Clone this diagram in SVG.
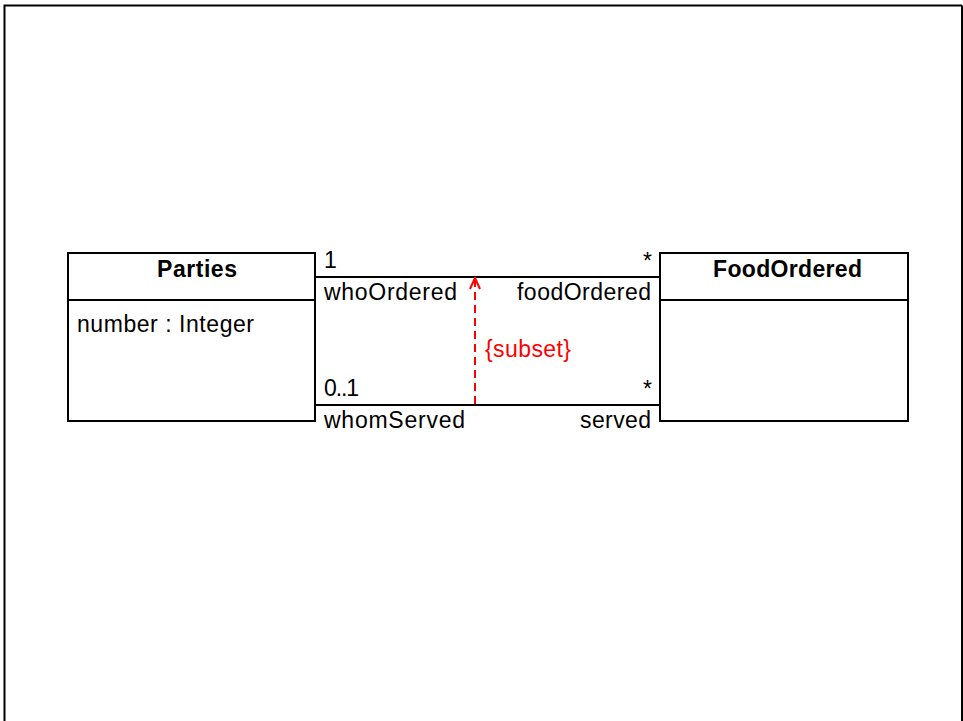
<svg xmlns="http://www.w3.org/2000/svg" width="963" height="721" viewBox="0 0 963 721">
<style>
.box{fill:#fff;stroke:#000;stroke-width:2}
.ln{stroke:#000;stroke-width:2;fill:none}
.t{font-family:"Liberation Sans",Arial,sans-serif;font-size:23px;fill:#000}
.b{font-weight:bold}
.red{fill:#f00}
</style>
<rect x="0" y="0" width="963" height="721" fill="#fff"/>
<path class="ln" d="M4.5,730 V5.5 H962"/>
<path class="ln" d="M962,5.5 V730"/>
<g id="connectors">
<line class="ln" x1="315" y1="277" x2="660" y2="277"/>
<line class="ln" x1="315" y1="405" x2="660" y2="405"/>
<line x1="475" y1="404" x2="475" y2="280" stroke="#f00" stroke-width="2" stroke-dasharray="8,5"/>
<path d="M470,289 L475,278 L480,289" fill="none" stroke="#f00" stroke-width="2"/>
<text class="t" x="324" y="268">1</text>
<text class="t" x="324" y="300" textLength="133" lengthAdjust="spacing">whoOrdered</text>
<text class="t" x="517" y="300" textLength="134" lengthAdjust="spacing">foodOrdered</text>
<text class="t" x="652" y="269" text-anchor="end">*</text>
<text class="t" x="324" y="396" textLength="35" lengthAdjust="spacing">0..1</text>
<text class="t" x="324" y="428" textLength="141" lengthAdjust="spacing">whomServed</text>
<text class="t" x="652" y="397" text-anchor="end">*</text>
<text class="t" x="580" y="428" textLength="71" lengthAdjust="spacing">served</text>
<text class="t red" x="485" y="357" textLength="86" lengthAdjust="spacing">{subset}</text>
</g>
<g id="Parties">
<rect class="box" x="68" y="253" width="247" height="168"/>
<line class="ln" x1="68" y1="300" x2="315" y2="300"/>
<text class="t b" x="157" y="277" textLength="80" lengthAdjust="spacing">Parties</text>
<text class="t" x="77" y="332" textLength="177" lengthAdjust="spacing">number : Integer</text>
</g>
<g id="FoodOrdered">
<rect class="box" x="660" y="253" width="248" height="168"/>
<line class="ln" x1="660" y1="300" x2="908" y2="300"/>
<text class="t b" x="713" y="277" textLength="149" lengthAdjust="spacing">FoodOrdered</text>
</g>
</svg>
